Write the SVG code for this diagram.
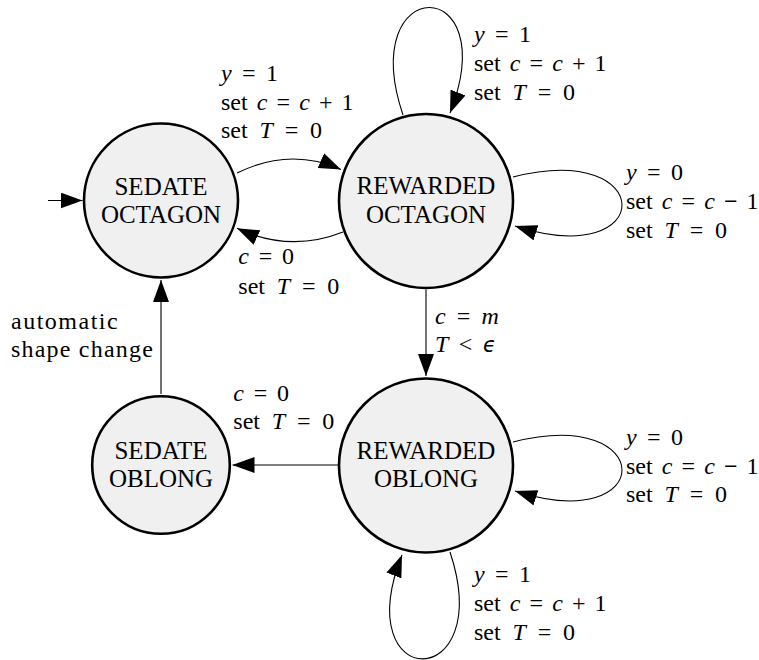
<svg xmlns="http://www.w3.org/2000/svg" width="759" height="660" viewBox="0 0 759 660">
<style>
  .node circle { fill: #f0f0f0; stroke: #000; stroke-width: 2.6; }
  .edge { fill: none; stroke: #000; stroke-width: 1.1; marker-end: url(#arr); }
</style>
<defs>
  <marker id="arr" markerUnits="userSpaceOnUse" markerWidth="22" markerHeight="16" refX="22" refY="8" orient="auto">
    <path d="M0,0 L22,8 L0,16 Z" fill="#000"/>
  </marker>
</defs>
<rect width="759" height="660" fill="#fff"/>

<g id="connectors">
  <path class="edge" d="M48,200.5 L82.5,200.5"/>
  <path class="edge" d="M237,173 Q290,147 341,169.5"/>
  <path class="edge" d="M343,232 Q290,253 237,228.3"/>
  <path class="edge" d="M403,115 C355,-28 505,-28 450,113"/>
  <path class="edge" d="M513,177 C658,140 658,272 515,226"/>
  <path class="edge" d="M426,289.5 L426,376"/>
  <path class="edge" d="M513,442 C658,405 658,537 515,491"/>
  <path class="edge" d="M450,552 C497,694 347,694 402,555"/>
  <path class="edge" d="M338,465 L232.5,465"/>
  <path class="edge" d="M161,394 L161,280"/>
</g>

<g id="sedate-octagon" class="node" font-family="Liberation Serif, serif" font-size="25" text-anchor="middle">
  <circle cx="161" cy="200.5" r="77"/>
  <text x="161" y="195">SEDATE</text>
  <text x="161" y="223.3">OCTAGON</text>
</g>
<g id="rewarded-octagon" class="node" font-family="Liberation Serif, serif" font-size="25" text-anchor="middle">
  <circle cx="426" cy="201" r="87"/>
  <text x="426" y="194.3">REWARDED</text>
  <text x="426" y="222.7">OCTAGON</text>
</g>
<g id="sedate-oblong" class="node" font-family="Liberation Serif, serif" font-size="25" text-anchor="middle">
  <circle cx="161" cy="465" r="68.8"/>
  <text x="161" y="458.7">SEDATE</text>
  <text x="161" y="487">OBLONG</text>
</g>
<g id="rewarded-oblong" class="node" font-family="Liberation Serif, serif" font-size="25" text-anchor="middle">
  <circle cx="426" cy="465.5" r="87"/>
  <text x="426" y="459">REWARDED</text>
  <text x="426" y="487">OBLONG</text>
</g>

<g id="edge-labels" font-family="Liberation Serif, serif" font-size="24" fill="#000">
  <text x="221" y="81"><tspan font-style="italic">y</tspan><tspan dx="4.4"> =</tspan><tspan dx="4.4"> 1</tspan></text>
  <text x="221" y="109.5">set<tspan dx="3.1" font-style="italic"> c</tspan><tspan dx="3.1"> =</tspan><tspan dx="3.1" font-style="italic"> c</tspan><tspan dx="3.1"> +</tspan><tspan dx="3.1"> 1</tspan></text>
  <text x="221" y="138.3">set<tspan dx="5.8" font-style="italic"> T</tspan><tspan dx="5.8"> =</tspan><tspan dx="5.8"> 0</tspan></text>

  <text x="238.3" y="263.5"><tspan font-style="italic">c</tspan><tspan dx="3.8"> =</tspan><tspan dx="3.8"> 0</tspan></text>
  <text x="238.3" y="293.5">set<tspan dx="5.8" font-style="italic"> T</tspan><tspan dx="5.8"> =</tspan><tspan dx="5.8"> 0</tspan></text>

  <text x="474" y="41.7"><tspan font-style="italic">y</tspan><tspan dx="4.4"> =</tspan><tspan dx="4.4"> 1</tspan></text>
  <text x="474" y="70.7">set<tspan dx="3.1" font-style="italic"> c</tspan><tspan dx="3.1"> =</tspan><tspan dx="3.1" font-style="italic"> c</tspan><tspan dx="3.1"> +</tspan><tspan dx="3.1"> 1</tspan></text>
  <text x="474" y="100">set<tspan dx="5.8" font-style="italic"> T</tspan><tspan dx="5.8"> =</tspan><tspan dx="5.8"> 0</tspan></text>

  <text x="626" y="180"><tspan font-style="italic">y</tspan><tspan dx="4.4"> =</tspan><tspan dx="4.4"> 0</tspan></text>
  <text x="626" y="208.5">set<tspan dx="3.1" font-style="italic"> c</tspan><tspan dx="3.1"> =</tspan><tspan dx="3.1" font-style="italic"> c</tspan><tspan dx="3.1"> </tspan><tspan font-family="Liberation Sans, DejaVu Sans, sans-serif" font-size="23">−</tspan><tspan dx="3.1"> 1</tspan></text>
  <text x="626" y="237.5">set<tspan dx="5.8" font-style="italic"> T</tspan><tspan dx="5.8"> =</tspan><tspan dx="5.8"> 0</tspan></text>

  <text x="435" y="323.5"><tspan font-style="italic">c</tspan><tspan dx="5.2"> =</tspan><tspan dx="5.2" font-style="italic"> m</tspan></text>
  <text x="435" y="351.7"><tspan font-style="italic">T</tspan><tspan dx="4.5"> &lt; </tspan><tspan dx="4.5" font-family="DejaVu Sans, Noto Sans, sans-serif" font-size="21" font-style="italic">ϵ</tspan></text>

  <text x="626" y="445"><tspan font-style="italic">y</tspan><tspan dx="4.4"> =</tspan><tspan dx="4.4"> 0</tspan></text>
  <text x="626" y="473.5">set<tspan dx="3.1" font-style="italic"> c</tspan><tspan dx="3.1"> =</tspan><tspan dx="3.1" font-style="italic"> c</tspan><tspan dx="3.1"> </tspan><tspan font-family="Liberation Sans, DejaVu Sans, sans-serif" font-size="23">−</tspan><tspan dx="3.1"> 1</tspan></text>
  <text x="626" y="502">set<tspan dx="5.8" font-style="italic"> T</tspan><tspan dx="5.8"> =</tspan><tspan dx="5.8"> 0</tspan></text>

  <text x="474" y="581.7"><tspan font-style="italic">y</tspan><tspan dx="4.4"> =</tspan><tspan dx="4.4"> 1</tspan></text>
  <text x="474" y="611">set<tspan dx="3.1" font-style="italic"> c</tspan><tspan dx="3.1"> =</tspan><tspan dx="3.1" font-style="italic"> c</tspan><tspan dx="3.1"> +</tspan><tspan dx="3.1"> 1</tspan></text>
  <text x="474" y="640">set<tspan dx="5.8" font-style="italic"> T</tspan><tspan dx="5.8"> =</tspan><tspan dx="5.8"> 0</tspan></text>

  <text x="233.3" y="400.7"><tspan font-style="italic">c</tspan><tspan dx="3.8"> =</tspan><tspan dx="3.8"> 0</tspan></text>
  <text x="233.3" y="429.3">set<tspan dx="5.8" font-style="italic"> T</tspan><tspan dx="5.8"> =</tspan><tspan dx="5.8"> 0</tspan></text>

  <text x="11" y="328.5" dx="0 1.5 1.5 1.5 1.5 1.5 1.5 1.5 1.5">automatic</text>
  <text x="11" y="356.7" dx="0 1.2 1.2 1.2 1.2 1.2 1.2 1.2 1.2 1.2 1.2 1.2">shape change</text>
</g>
</svg>
